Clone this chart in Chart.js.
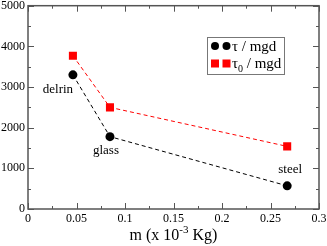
<!DOCTYPE html>
<html>
<head>
<meta charset="utf-8">
<script src="https://cdn.jsdelivr.net/npm/chart.js@4"></script>
<style>
html,body{margin:0;padding:0;background:#fff;}
#wrap{width:327px;height:246px;position:relative;}
</style>
</head>
<body>
<div id="wrap"><canvas id="c" width="327" height="246"></canvas></div>
<script>
const materials = ['delrin', 'glass', 'steel'];
const mass = [0.0463, 0.0845, 0.2672];
const tau = [3300, 1780, 570];
const tau0 = [3770, 2500, 1540];
const xTicks = [0, 0.05, 0.1, 0.15, 0.2, 0.25, 0.3];
const yTicks = [0, 1000, 2000, 3000, 4000, 5000];

const SERIF = '"Liberation Serif", "Times New Roman", serif';
const FRAME = '#555';

const tauPts = mass.map((m, i) => ({x: m, y: tau[i]}));
const tau0Pts = mass.map((m, i) => ({x: m, y: tau0[i]}));

const framePlugin = {
  id: 'frame',
  afterDraw(chart) {
    const ctx = chart.ctx;
    const a = chart.chartArea;
    const xs = chart.scales.x, ys = chart.scales.y;
    ctx.save();
    ctx.strokeStyle = FRAME;
    ctx.lineWidth = 1.5;
    ctx.strokeRect(a.left, a.top, a.right - a.left, a.bottom - a.top);
    ctx.lineWidth = 1;
    ctx.beginPath();
    for (let v = 0; v <= 0.3 + 1e-9; v += 0.025) {
      const major = Math.abs(v / 0.05 - Math.round(v / 0.05)) < 1e-6;
      const L = major ? 6 : 3;
      const px = Math.round(xs.getPixelForValue(v)) + 0.5;
      ctx.moveTo(px, a.bottom); ctx.lineTo(px, a.bottom - L);
      ctx.moveTo(px, a.top); ctx.lineTo(px, a.top + L);
    }
    for (let v = 0; v <= 5000; v += 500) {
      const major = v % 1000 === 0;
      const L = major ? 6 : 3;
      const py = Math.round(ys.getPixelForValue(v)) + 0.5;
      ctx.moveTo(a.left, py); ctx.lineTo(a.left + L, py);
      ctx.moveTo(a.right, py); ctx.lineTo(a.right - L, py);
    }
    ctx.stroke();

    ctx.fillStyle = '#000';
    ctx.textBaseline = 'alphabetic';
    const p1 = 'm (x 10', p3 = ' Kg)';
    ctx.font = '11px ' + SERIF;
    const w2 = ctx.measureText('-3').width;
    ctx.font = '16px ' + SERIF;
    const w1 = ctx.measureText(p1).width, w3 = ctx.measureText(p3).width;
    const cx = (a.left + a.right) / 2;
    let tx = cx - (w1 + w2 + w3) / 2;
    const by = 240;
    ctx.textAlign = 'left';
    ctx.fillText(p1, tx, by); tx += w1;
    ctx.font = '11px ' + SERIF;
    ctx.fillText('-3', tx, by - 7); tx += w2;
    ctx.font = '16px ' + SERIF;
    ctx.fillText(p3, tx, by);

    ctx.font = '13px ' + SERIF;
    ctx.textAlign = 'center';
    ctx.textBaseline = 'middle';
    const offs = [[-15, 15], [-4, 14], [3, -16]];
    materials.forEach((name, i) => {
      const px = xs.getPixelForValue(mass[i]);
      const py = ys.getPixelForValue(tau[i]);
      ctx.fillText(name, px + offs[i][0], py + offs[i][1]);
    });

    const lx = 207, ly = 37, lw = 77, lh = 37;
    ctx.fillStyle = '#fff';
    ctx.fillRect(lx, ly, lw, lh);
    ctx.strokeStyle = '#777';
    ctx.lineWidth = 1;
    ctx.strokeRect(lx + 0.5, ly + 0.5, lw, lh);
    ctx.fillStyle = '#000';
    const r1 = 46, r2 = 63.5;
    [215, 226.5].forEach(mx => {
      ctx.beginPath(); ctx.arc(mx, r1, 4, 0, Math.PI * 2); ctx.fill();
    });
    ctx.fillStyle = '#ff0000';
    [215, 226.5].forEach(mx => { ctx.fillRect(mx - 4, r2 - 4, 8, 8); });
    ctx.fillStyle = '#000';
    ctx.textAlign = 'left';
    ctx.textBaseline = 'alphabetic';
    ctx.font = '15px ' + SERIF;
    ctx.fillText('\u03c4 / mgd', 232, r1 + 5);
    ctx.fillText('\u03c4', 232, r2 + 4);
    const wt = ctx.measureText('\u03c4').width;
    ctx.font = '10px ' + SERIF;
    ctx.fillText('0', 232 + wt, r2 + 8);
    const w0 = ctx.measureText('0').width;
    ctx.font = '15px ' + SERIF;
    ctx.fillText(' / mgd', 232 + wt + w0, r2 + 4);
    ctx.restore();
  }
};

new Chart(document.getElementById('c'), {
  type: 'scatter',
  data: {
    datasets: [
      {
        label: '\u03c4 / mgd',
        data: tauPts,
        showLine: true,
        borderColor: '#000',
        borderWidth: 1,
        borderDash: [4, 3],
        backgroundColor: '#000',
        pointStyle: 'circle',
        pointRadius: 4.5,
        pointBorderWidth: 0
      },
      {
        label: '\u03c40 / mgd',
        data: tau0Pts,
        showLine: true,
        borderColor: '#ff0000',
        borderWidth: 1,
        borderDash: [4, 3],
        backgroundColor: '#ff0000',
        pointStyle: 'rect',
        pointRadius: 5.7,
        pointBorderWidth: 0
      }
    ]
  },
  options: {
    responsive: false,
    animation: false,
    devicePixelRatio: 1,
    layout: {padding: {left: 0, top: 5, right: 8, bottom: 0}},
    plugins: {legend: {display: false}, tooltip: {enabled: false}},
    scales: {
      x: {
        type: 'linear', min: 0, max: 0.3,
        afterBuildTicks(s) { s.ticks = xTicks.map(v => ({value: v})); },
        afterFit(s) { s.height = 37; s.paddingLeft = 0; s.paddingRight = 0; },
        grid: {display: false, drawTicks: false},
        border: {display: false},
        ticks: {
          color: '#000', padding: 3, maxRotation: 0, autoSkip: false,
          font: {family: SERIF, size: 12},
          callback: v => String(v)
        }
      },
      y: {
        type: 'linear', min: 0, max: 5000,
        afterBuildTicks(s) { s.ticks = yTicks.map(v => ({value: v})); },
        afterFit(s) { s.width = 28; s.paddingTop = 0; s.paddingBottom = 0; },
        grid: {display: false, drawTicks: false},
        border: {display: false},
        ticks: {
          color: '#000', padding: 3, autoSkip: false,
          font: {family: SERIF, size: 12},
          callback: v => String(v)
        }
      }
    }
  },
  plugins: [framePlugin]
});
</script>
</body>
</html>
